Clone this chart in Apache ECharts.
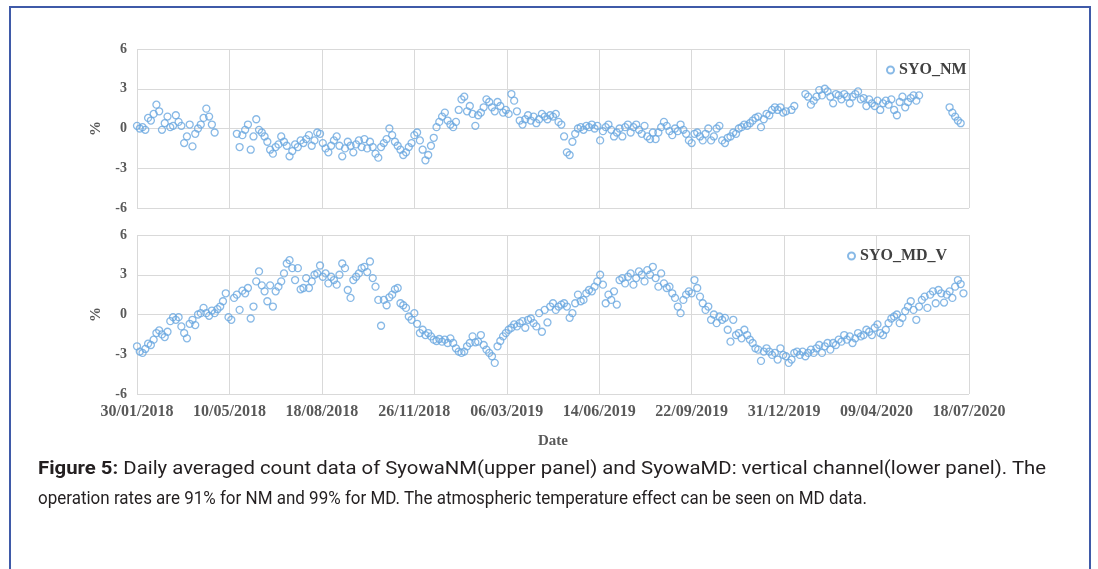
<!DOCTYPE html>
<html>
<head>
<meta charset="utf-8">
<script src="https://cdn.jsdelivr.net/npm/echarts@6/dist/echarts.min.js"></script>
<style>
html,body{margin:0;padding:0;background:#fff;}
#wrap{position:relative;width:1098px;height:569px;overflow:hidden;background:#fff;}
#frame{position:absolute;left:9px;top:6px;width:1082px;height:620px;border:2px solid #3f5aa8;box-sizing:border-box;}
#chart{position:absolute;left:0;top:0;width:1098px;height:569px;}
#cap{position:absolute;left:38px;top:453px;font-family:Roboto,"Noto Sans",sans-serif;font-size:19px;color:#231f20;line-height:30px;}
.line{white-space:nowrap;transform-origin:0 0;display:block;width:max-content;}
</style>
</head>
<body>
<div id="wrap">
  <div id="frame"></div>
  <div id="chart"></div>
  <div id="cap">
    <span class="line" id="l1"><b>Figure 5:</b> Daily averaged count data of SyowaNM(upper panel) and SyowaMD: vertical channel(lower panel). The</span>
    <span class="line" id="l2">operation rates are 91% for NM and 99% for MD. The atmospheric temperature effect can be seen on MD data.</span>
  </div>
</div>
<script>
// ---- data ----
const stepDays = 3; // one value every 3 days starting 30/01/2018
const tickLabels = ['30/01/2018','10/05/2018','18/08/2018','26/11/2018','06/03/2019','14/06/2019','22/09/2019','31/12/2019','09/04/2020','18/07/2020'];
const seriesNames = ['SYO_NM','SYO_MD_V'];
const nm = [
 0.2, 0.0, 0.1, -0.1, 0.8, 0.6, 1.1, 1.8, 1.3, -0.1,
 0.4, 0.9, 0.1, 0.2, 1.0, 0.5, 0.2, -1.1, -0.6, 0.3,
 -1.35, -0.4, 0.0, 0.3, 0.8, 1.5, 0.9, 0.3, -0.3, null,
 null, null, null, null, null, null, -0.4, -1.4, -0.5, -0.1,
 0.3, -1.6, -0.6, 0.7, -0.1, -0.3, -0.6, -1.0, -1.6, -1.9,
 -1.4, -1.2, -0.6, -1.0, -1.3, -2.1, -1.7, -1.2, -1.4, -0.9,
 -1.1, -0.8, -0.5, -1.3, -0.9, -0.3, -0.4, -1.1, -1.5, -1.8,
 -1.3, -0.9, -0.6, -1.3, -2.1, -1.5, -1.0, -1.3, -1.8, -1.2,
 -0.9, -1.4, -0.8, -1.5, -1.0, -1.4, -1.9, -2.2, -1.4, -1.1,
 -0.8, 0.0, -0.5, -1.0, -1.3, -1.6, -2.0, -1.8, -1.4, -1.1,
 -0.5, -0.3, -0.9, -1.6, -2.4, -2.0, -1.3, -0.7, 0.1, 0.5,
 0.9, 1.2, 0.6, 0.3, 0.1, 0.5, 1.4, 2.2, 2.4, 1.3,
 1.7, 1.1, 0.2, 1.0, 1.2, 1.6, 2.2, 2.0, 1.6, 1.3,
 2.0, 1.7, 1.2, 1.4, 1.1, 2.6, 2.1, 1.3, 0.6, 0.3,
 0.7, 1.0, 0.6, 0.9, 0.4, 0.7, 1.1, 0.9, 0.7, 1.0,
 0.9, 1.1, 0.5, 0.3, -0.6, -1.8, -2.0, -1.0, -0.4, 0.0,
 0.1, -0.1, 0.2, 0.1, 0.3, 0.0, 0.2, -0.9, -0.2, 0.1,
 0.3, -0.1, -0.6, -0.3, 0.0, -0.6, 0.1, 0.3, -0.3, 0.1,
 0.3, -0.1, -0.4, 0.2, -0.6, -0.8, -0.3, -0.8, -0.3, 0.1,
 0.5, 0.2, -0.2, -0.5, 0.0, -0.2, 0.3, -0.1, -0.4, -0.9,
 -1.1, -0.4, -0.3, -0.6, -0.9, -0.4, 0.0, -0.9, -0.6, 0.0,
 0.2, -0.9, -1.1, -0.7, -0.6, -0.3, -0.4, 0.0, 0.1, 0.3,
 0.2, 0.4, 0.6, 0.8, 0.9, 0.1, 0.7, 1.1, 1.0, 1.4,
 1.6, 1.4, 1.6, 1.2, 1.3, null, 1.4, 1.7, null, null,
 null, 2.6, 2.4, 1.8, 2.1, 2.4, 2.9, 2.5, 3.0, 2.8,
 2.4, 1.9, 2.6, 2.5, 2.2, 2.6, 2.4, 1.9, 2.4, 2.6,
 2.8, 2.2, 2.3, 1.7, 2.2, 1.9, 1.7, 2.1, 1.4, 1.9,
 2.1, 1.8, 2.2, 1.4, 1.0, 2.0, 2.4, 1.6, 2.0, 2.3,
 2.5, 2.1, 2.5, null, null, null, null, null, null, null,
 null, null, null, 1.6, 1.2, 0.9, 0.6, 0.4, null, null,
 null
];
const md = [
 -2.4, -2.8, -2.9, -2.6, -2.2, -2.3, -1.9, -1.4, -1.2, -1.5,
 -1.7, -1.3, -0.5, -0.2, -0.4, -0.2, -0.9, -1.4, -1.8, -0.7,
 -0.4, -0.8, 0.0, 0.1, 0.5, 0.1, -0.1, 0.3, 0.1, 0.4,
 0.6, 1.0, 1.6, -0.2, -0.4, 1.25, 1.5, 0.35, 1.8, 1.6,
 2.0, -0.3, 0.6, 2.5, 3.25, 2.2, 1.75, 1.0, 2.2, 0.6,
 1.75, 2.1, 2.5, 3.1, 3.85, 4.1, 3.5, 2.6, 3.5, 1.9,
 2.0, 2.75, 2.0, 2.5, 3.0, 3.1, 3.7, 2.85, 3.1, 2.35,
 2.85, 2.6, 2.25, 3.0, 3.85, 3.5, 1.85, 1.25, 2.6, 2.85,
 3.1, 3.5, 3.6, 3.2, 4.0, 2.75, 2.1, 1.1, -0.85, 1.1,
 0.7, 1.3, 1.5, 1.9, 2.0, 0.85, 0.7, 0.5, -0.15, -0.4,
 0.1, -0.7, -1.4, -1.15, -1.55, -1.4, -1.65, -1.9, -2.0, -1.85,
 -2.05, -1.9, -2.15, -1.8, -2.15, -2.55, -2.8, -2.9, -2.8, -2.4,
 -2.15, -1.65, -2.1, -2.05, -1.55, -2.3, -2.65, -2.9, -3.15, -3.65,
 -2.4, -2.0, -1.65, -1.4, -1.15, -1.0, -0.75, -0.9, -0.65, -0.5,
 -1.0, -0.4, -0.3, -0.65, -0.9, 0.1, -1.3, 0.35, -0.6, 0.6,
 0.85, 0.35, 0.6, 0.75, 0.85, 0.6, -0.25, 0.1, 0.85, 1.5,
 1.0, 1.1, 1.6, 1.85, 1.75, 2.1, 2.5, 3.0, 2.25, 0.85,
 1.5, 1.1, 1.75, 0.75, 2.6, 2.75, 2.35, 2.85, 3.1, 2.25,
 2.75, 3.25, 3.0, 2.5, 3.35, 3.0, 3.6, 2.75, 2.1, 3.1,
 2.35, 2.0, 2.1, 1.6, 1.25, 0.6, 0.1, 1.1, 1.5, 1.75,
 1.6, 2.6, 2.0, 1.35, 0.85, 0.35, 0.6, -0.4, 0.0, -0.65,
 -0.15, -0.4, -0.25, -1.15, -2.05, -0.4, -1.55, -1.4, -1.8, -1.15,
 -1.55, -1.9, -2.15, -2.55, -2.65, -3.5, -2.8, -2.55, -2.8, -3.05,
 -2.9, -3.4, -2.55, -3.05, -3.15, -3.65, -3.4, -2.9, -2.8, -3.05,
 -2.8, -3.15, -2.9, -2.65, -2.9, -2.55, -2.3, -2.9, -2.4, -2.15,
 -2.65, -2.15, -2.3, -1.9, -2.05, -1.55, -1.9, -1.65, -2.15, -1.8,
 -1.4, -1.65, -1.55, -1.15, -1.3, -1.55, -1.0, -0.75, -1.4, -1.55,
 -1.15, -0.65, -0.3, -0.15, 0.0, -0.65, -0.25, 0.25, 0.6, 1.0,
 0.35, -0.4, 0.6, 1.1, 1.35, 0.5, 1.5, 1.75, 0.85, 1.85,
 1.6, 0.9, 1.5, 1.75, 1.25, 2.1, 2.6, 2.3, 1.6, null,
 null
];

// ---- build ----
function toPoints(arr){
  const out = [];
  arr.forEach((v,i)=>{ if(v!==null) out.push([i*stepDays, v]); });
  return out;
}
const serif = '"Liberation Serif","Times New Roman",serif';
const grey = '#595959';
const markColor = '#6aa8e0';
const gridLine = {show:true, lineStyle:{color:'#d9d9d9', width:1}};

function xAxis(idx, showLabels){
  return {
    type:'value', gridIndex:idx, min:0, max:900, interval:100,
    axisLine:{show:false}, axisTick:{show:false},
    splitLine:gridLine,
    axisLabel:{show:showLabels, margin:10, fontFamily:serif, fontWeight:'bold', fontSize:16, color:grey,
      formatter:(v)=>tickLabels[Math.round(v/100)]},
    name: showLabels ? 'Date' : '', nameLocation:'middle', nameGap:40,
    nameTextStyle:{fontFamily:serif, fontWeight:'bold', fontSize:15, color:grey}
  };
}
function yAxis(idx){
  return {
    type:'value', gridIndex:idx, min:-6, max:6, interval:3,
    axisLine:{show:false}, axisTick:{show:false},
    splitLine:gridLine,
    axisLabel:{margin:10, fontFamily:serif, fontWeight:'bold', fontSize:14, color:grey},
    name:'%', nameLocation:'middle', nameGap:33, nameRotate:90,
    nameTextStyle:{fontFamily:serif, fontWeight:'bold', fontSize:15, color:grey}
  };
}
function legend(idx, left, top){
  return {
    data:[seriesNames[idx]], left:left, top:top, itemWidth:7, itemHeight:7, itemGap:4,
    icon:'circle',
    textStyle:{fontFamily:serif, fontWeight:'bold', fontSize:16, color:'#404040'}
  };
}
function series(idx, arr){
  return {
    name:seriesNames[idx], type:'scatter', xAxisIndex:idx, yAxisIndex:idx,
    symbol:'circle', symbolSize:7,
    itemStyle:{color:'rgba(255,255,255,0)', borderColor:markColor, borderWidth:1.3},
    data:toPoints(arr)
  };
}

const chart = echarts.init(document.getElementById('chart'), null, {renderer:'canvas'});
chart.setOption({
  animation:false,
  grid:[
    {left:137, right:129, top:49, height:159},
    {left:137, right:129, top:235, height:159}
  ],
  xAxis:[xAxis(0,false), xAxis(1,true)],
  yAxis:[yAxis(0), yAxis(1)],
  legend:[legend(0, 881, 57), legend(1, 842, 243)],
  series:[series(0, nm), series(1, md)]
});

// fit caption lines to the reference width
function fit(id, target){
  const el = document.getElementById(id);
  const w = el.getBoundingClientRect().width;
  el.style.transform = 'scaleX(' + (target / w) + ')';
}
fit('l1', 1008);
fit('l2', 829);
</script>
</body>
</html>
